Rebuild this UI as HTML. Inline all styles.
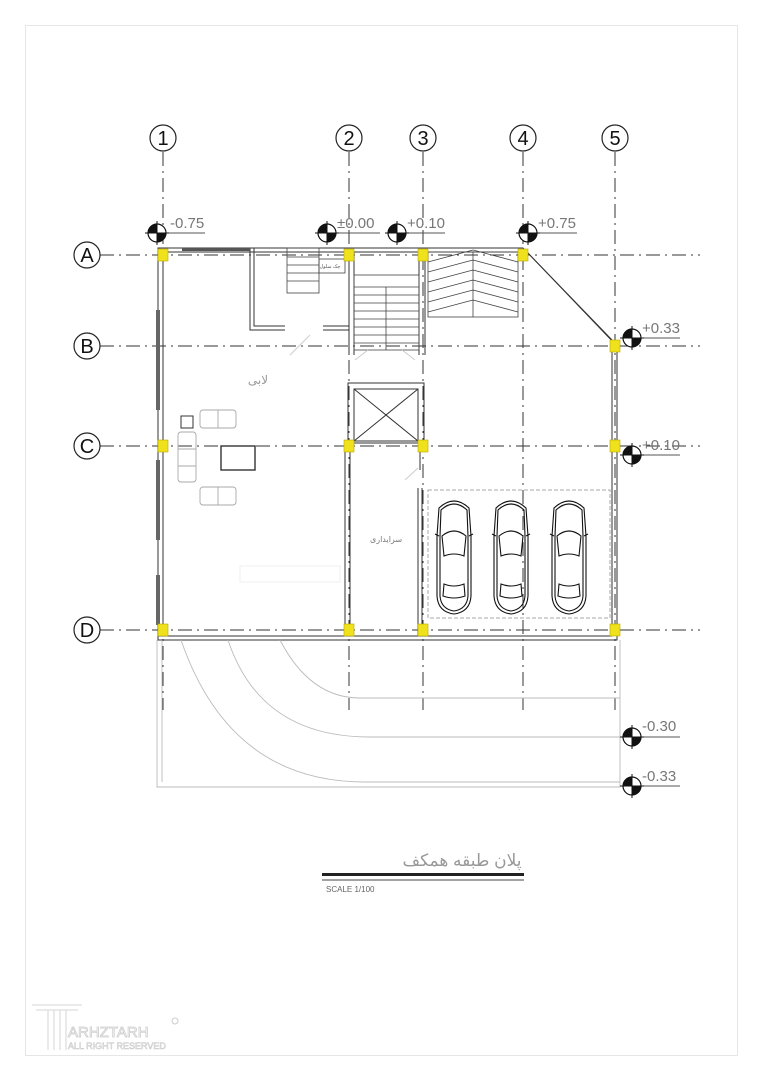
<!DOCTYPE html>
<html><head><meta charset="utf-8"><style>
html,body{margin:0;padding:0;background:#fff}
svg{display:block}
text{font-family:"Liberation Sans","DejaVu Sans",sans-serif}
</style></head><body>
<svg width="763" height="1080" viewBox="0 0 763 1080" xmlns="http://www.w3.org/2000/svg">
<rect x="25.5" y="25.5" width="712" height="1030" fill="none" stroke="#e6e6e6"/>
<defs>
<g id="bub"><circle r="13" fill="#fff" stroke="#222" stroke-width="1.2"/></g>
<g id="lev"><circle r="9" fill="#fff" stroke="#111" stroke-width="1.2"/><path d="M0 0 L-9 0 A9 9 0 0 1 0 -9Z" fill="#111"/><path d="M0 0 L9 0 A9 9 0 0 1 0 9Z" fill="#111"/><line x1="-12" y1="0" x2="12" y2="0" stroke="#111"/><line x1="0" y1="-12" x2="0" y2="12" stroke="#111"/></g>
<g id="car" fill="none" stroke="#111" stroke-width="1.1">
<path d="M6 12 Q21 -2 36 12 L38 40 L38 100 Q37 116 21 118 Q5 116 4 100 L4 40 Z"/>
<path d="M8 14 Q21 2 34 14 L35 40 L35 100 Q34 113 21 115 Q8 113 7 100 L7 40 Z"/>
<path d="M9 40 Q21 30 33 40 L31 60 Q21 56 11 60 Z"/>
<path d="M11 88 Q21 92 31 88 L32 100 Q21 104 10 100 Z"/>
<line x1="2" y1="38" x2="6" y2="40"/><line x1="40" y1="38" x2="36" y2="40"/>
</g>
</defs>
<!-- grid lines -->
<g stroke="#333" stroke-width="1" stroke-dasharray="14,5,2,5" fill="none">
<line x1="163" y1="152" x2="163" y2="710"/>
<line x1="349" y1="152" x2="349" y2="710"/>
<line x1="423" y1="152" x2="423" y2="710"/>
<line x1="523" y1="152" x2="523" y2="710"/>
<line x1="615" y1="152" x2="615" y2="710"/>
<line x1="100" y1="255" x2="700" y2="255"/>
<line x1="100" y1="346" x2="700" y2="346"/>
<line x1="100" y1="446" x2="700" y2="446"/>
<line x1="100" y1="630" x2="700" y2="630"/>
</g>
<!-- bubbles -->
<g font-size="20" fill="#111" text-anchor="middle">
<use href="#bub" x="163" y="138"/><text x="163" y="145">1</text>
<use href="#bub" x="349" y="138"/><text x="349" y="145">2</text>
<use href="#bub" x="423" y="138"/><text x="423" y="145">3</text>
<use href="#bub" x="523" y="138"/><text x="523" y="145">4</text>
<use href="#bub" x="615" y="138"/><text x="615" y="145">5</text>
<use href="#bub" x="87" y="255"/><text x="87" y="262">A</text>
<use href="#bub" x="87" y="346"/><text x="87" y="353">B</text>
<use href="#bub" x="87" y="446"/><text x="87" y="453">C</text>
<use href="#bub" x="87" y="630"/><text x="87" y="637">D</text>
</g>
<!-- walls -->
<g fill="none" stroke="#333" stroke-width="1">
<path d="M158 248 L523 248 L612 340 L612 636 L158 636 Z"/>
<path d="M163 252 L521 252 M527 252 L616 345 M617 345 L617 640 L158 640 L158 248"/>
<line x1="163" y1="255" x2="163" y2="636"/>
<line x1="345" y1="446" x2="345" y2="636"/><line x1="350" y1="446" x2="350" y2="636"/>
<line x1="349" y1="252" x2="349" y2="355"/><line x1="354" y1="252" x2="354" y2="355"/>
<line x1="419" y1="252" x2="419" y2="355"/><line x1="425" y1="252" x2="425" y2="355"/>
<line x1="418" y1="488" x2="418" y2="636"/><line x1="422" y1="488" x2="422" y2="636"/>
<line x1="420" y1="446" x2="420" y2="470"/>
<path d="M250 248 L250 330 L285 330 M254 248 L254 326 L285 326"/>
<path d="M323 326 L349 326 M323 330 L349 330"/>
<rect x="348" y="383" width="76" height="60"/><rect x="354" y="389" width="64" height="52"/>
<path d="M354 389 L418 441 M418 389 L354 441"/>
<rect x="221" y="446" width="34" height="24" stroke-width="1.4"/>
<rect x="181" y="416" width="12" height="12"/>
</g>
<rect x="156" y="310" width="4" height="100" fill="#666"/><rect x="156" y="460" width="4" height="80" fill="#666"/><rect x="156" y="575" width="4" height="50" fill="#666"/>
<rect x="182" y="248" width="68" height="3" fill="#555"/>
<!-- stairs -->
<g fill="none" stroke="#444" stroke-width="0.8">
<rect x="287" y="248" width="32" height="45"/>
<path d="M287 257h32M287 265h32M287 273h32M287 281h32"/>
<rect x="319" y="259" width="26" height="14"/>
<rect x="354" y="275" width="65" height="75"/>
<path d="M354 287h65M354 295h65M354 303h65M354 311h65M354 319h65M354 327h65M354 335h65M354 343h65M386 287v63"/>
<rect x="428" y="252" width="90" height="65"/>
<path d="M473 252v65M428 262l45-12M428 272l45-12M428 282l45-12M428 292l45-12M428 302l45-12M428 312l45-12M473 250l45 12M473 260l45 12M473 270l45 12M473 280l45 12M473 290l45 12M473 300l45 12"/>
</g>
<text x="330" y="268" font-size="5" fill="#555" text-anchor="middle" font-family="Noto Sans CJK SC,sans-serif">چک سلول</text>
<!-- doors -->
<g stroke="#ccc" fill="none"><path d="M290 355 L310 335 M355 360 L368 350 M415 360 L402 350 M405 480 L418 468"/></g>
<!-- furniture -->
<g fill="none" stroke="#aaa" stroke-width="0.9">
<rect x="200" y="410" width="36" height="18" rx="3"/><line x1="218" y1="410" x2="218" y2="428"/>
<rect x="200" y="487" width="36" height="18" rx="3"/><line x1="218" y1="487" x2="218" y2="505"/>
<rect x="178" y="432" width="18" height="50" rx="3"/><path d="M178 449h18M178 466h18"/>
<rect x="240" y="566" width="100" height="16" stroke="#eee"/>
</g>
<text x="258" y="384" font-size="12" fill="#999" text-anchor="middle" font-family="Noto Sans CJK SC,sans-serif">لابی</text>
<text x="386" y="542" font-size="8" fill="#777" text-anchor="middle" font-family="Noto Sans CJK SC,sans-serif">سرایداری</text>
<!-- parking -->
<rect x="428" y="490" width="182" height="128" fill="none" stroke="#aaa" stroke-dasharray="4,2"/>
<use href="#car" x="433" y="496"/><use href="#car" x="490" y="496"/><use href="#car" x="548" y="496"/>
<!-- columns -->
<g fill="#f0e11d" stroke="#b8a800" stroke-width="0.6">
<rect x="158" y="249" width="10" height="12"/><rect x="344" y="249" width="10" height="12"/><rect x="418" y="249" width="10" height="12"/><rect x="518" y="249" width="10" height="12"/>
<rect x="610" y="340" width="10" height="12"/>
<rect x="158" y="440" width="10" height="12"/><rect x="344" y="440" width="10" height="12"/><rect x="418" y="440" width="10" height="12"/><rect x="610" y="440" width="10" height="12"/>
<rect x="158" y="624" width="10" height="12"/><rect x="344" y="624" width="10" height="12"/><rect x="418" y="624" width="10" height="12"/><rect x="610" y="624" width="10" height="12"/>
</g>
<!-- ramps -->
<g fill="none" stroke="#bbb" stroke-width="0.9">
<path d="M181 640 Q230 782 365 782 L620 782"/>
<path d="M228 640 Q260 737 370 737 L620 737"/>
<path d="M280 640 Q310 698 360 698 L620 698"/>
<path d="M157 640 L157 787 L620 787 L620 640"/>
<line x1="162" y1="640" x2="162" y2="782"/>
</g>
<!-- levels -->
<g stroke="#555" stroke-width="1">
<line x1="155" y1="233" x2="205" y2="233"/><line x1="325" y1="233" x2="380" y2="233"/><line x1="395" y1="233" x2="445" y2="233"/><line x1="530" y1="233" x2="577" y2="233"/>
<line x1="632" y1="338" x2="680" y2="338"/><line x1="632" y1="455" x2="680" y2="455"/><line x1="632" y1="737" x2="680" y2="737"/><line x1="632" y1="786" x2="680" y2="786"/>
</g>
<use href="#lev" x="157" y="233"/><use href="#lev" x="327" y="233"/><use href="#lev" x="397" y="233"/><use href="#lev" x="528" y="233"/>
<use href="#lev" x="632" y="338"/><use href="#lev" x="632" y="455"/><use href="#lev" x="632" y="737"/><use href="#lev" x="632" y="786"/>
<g font-size="15" fill="#777">
<text x="170" y="228">-0.75</text><text x="337" y="228">±0.00</text><text x="407" y="228">+0.10</text><text x="538" y="228">+0.75</text>
<text x="642" y="333">+0.33</text><text x="642" y="450">+0.10</text><text x="642" y="731">-0.30</text><text x="642" y="781">-0.33</text>
</g>
<!-- title -->
<text x="462" y="866" font-size="17" fill="#999" text-anchor="middle" font-family="Noto Serif CJK SC,serif">پلان طبقه همکف</text>
<rect x="322" y="873" width="202" height="3" fill="#222"/><line x1="322" y1="880" x2="524" y2="880" stroke="#444"/>
<text x="326" y="892" font-size="8" fill="#666" font-family="Liberation Serif,serif">SCALE 1/100</text>
<!-- logo -->
<g fill="none" stroke="#ddd" stroke-width="1.2"><path d="M32 1005h50M36 1010h42M48 1010v40M54 1010v40M60 1010v40M66 1010v40"/></g>
<text x="68" y="1037" font-size="15" fill="none" stroke="#ccc" stroke-width="0.8">ARHZTARH</text>
<text x="68" y="1049" font-size="9" fill="none" stroke="#ccc" stroke-width="0.6">ALL RIGHT RESERVED</text>
<circle cx="175" cy="1021" r="3" fill="none" stroke="#ccc"/>
</svg>
</body></html>
